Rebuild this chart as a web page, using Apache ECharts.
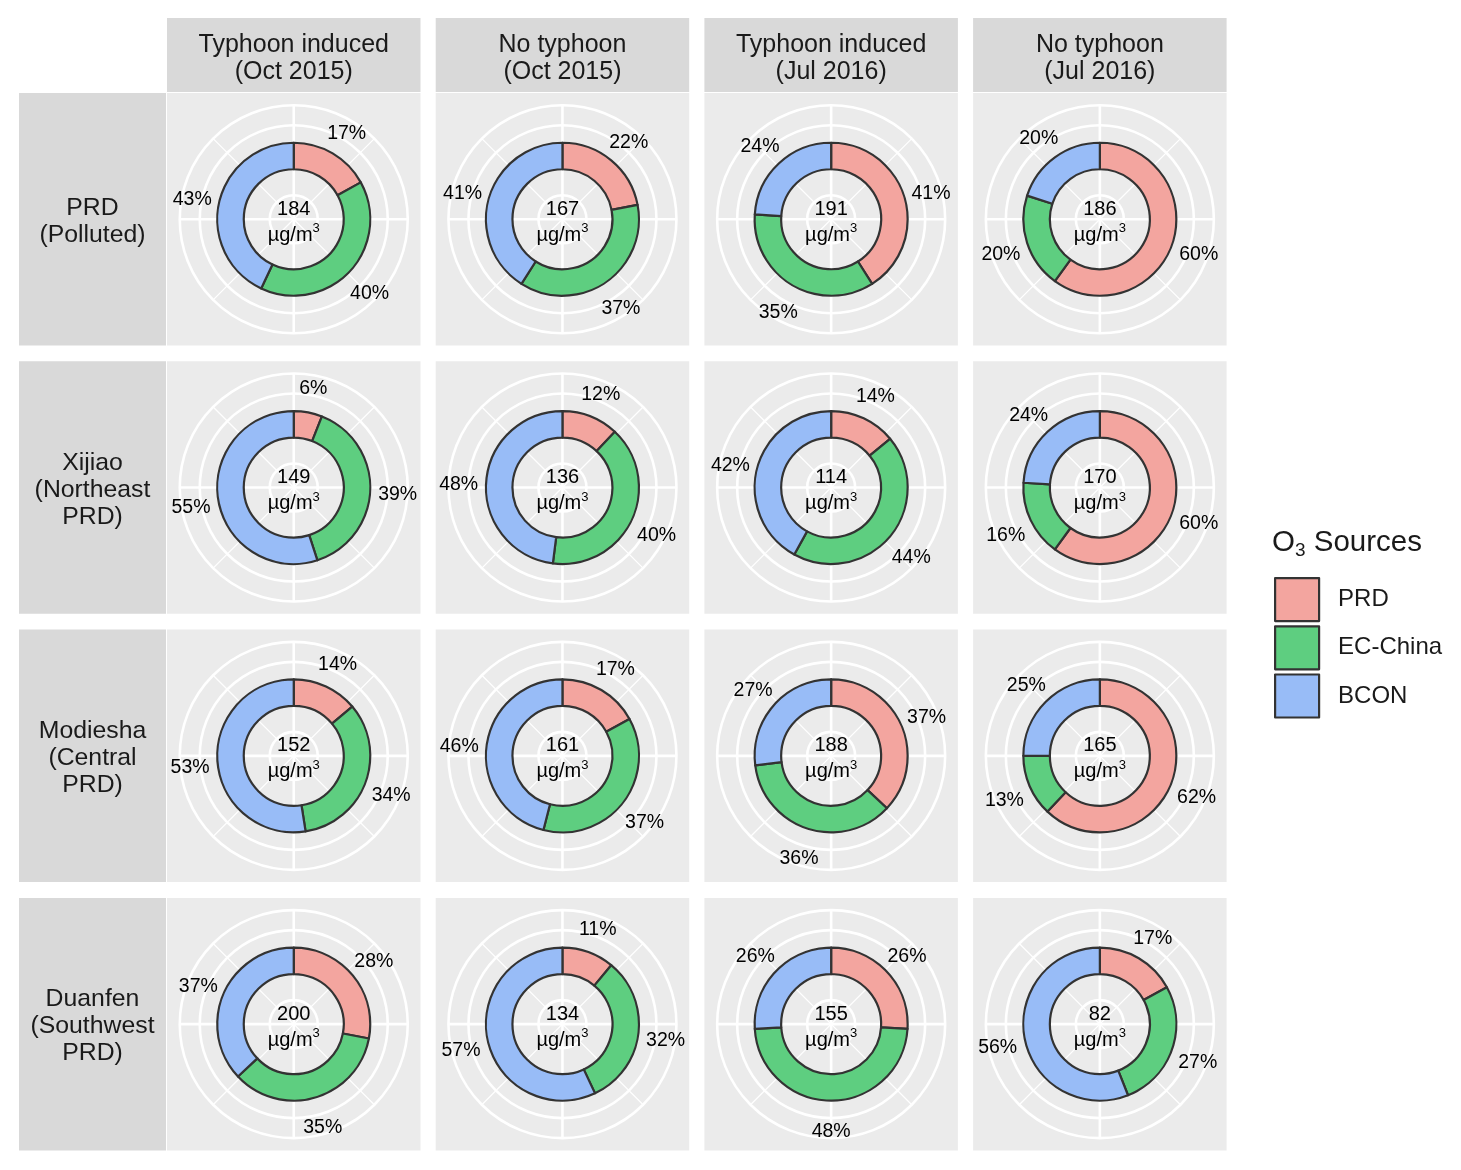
<!DOCTYPE html>
<html><head><meta charset="utf-8">
<script src="https://cdn.jsdelivr.net/npm/echarts@6/dist/echarts.min.js"></script>
<style>html,body{margin:0;padding:0;background:#fff}#c{width:1461px;height:1170px}</style>
</head><body><div id="c"></div>
<script>
// ---- data ----
const columnLabels = ['Typhoon induced\n(Oct 2015)', 'No typhoon\n(Oct 2015)', 'Typhoon induced\n(Jul 2016)', 'No typhoon\n(Jul 2016)'];
const rowLabels = ['PRD\n(Polluted)', 'Xijiao\n(Northeast\nPRD)', 'Modiesha\n(Central\nPRD)', 'Duanfen\n(Southwest\nPRD)'];
const sourceNames = ['PRD', 'EC-China', 'BCON'];
// row-major: row (site) x column (period), percent share
const prdShare     = [17, 22, 41, 60,   6, 12, 14, 60,  14, 17, 37, 62,  28, 11, 26, 17];
const ecChinaShare = [40, 37, 35, 20,  39, 40, 44, 16,  34, 37, 36, 13,  35, 32, 48, 27];
const bconShare    = [43, 41, 24, 20,  55, 48, 42, 24,  53, 46, 27, 25,  37, 57, 26, 56];
const o3Total      = [184, 167, 191, 186, 149, 136, 114, 170, 152, 161, 188, 165, 200, 134, 155, 82];

// ---- styling / layout ----
const FONT = 'Liberation Sans, Arial, sans-serif';
const sourceColors = ['#F3A59F', '#5ECE80', '#98BCF7'];
const panelX0 = 167, panelY0 = 93, stepX = 268.7, stepY = 268.3, panelW = 253.5, panelH = 252.5;
const stripTop = 18, stripLeft = 19;
const panelBg = '#EBEBEB', stripBg = '#D9D9D9', textCol = '#1A1A1A';

const chart = echarts.init(document.getElementById('c'), null, {renderer: 'canvas'});

const graphics = [];
const polar = [], angleAxis = [], radiusAxis = [], series = [];

columnLabels.forEach((lab, c) => {
  const x = panelX0 + c * stepX;
  graphics.push({type: 'rect', z: -10, silent: true, shape: {x: x, y: stripTop, width: panelW, height: panelY0 - stripTop - 1}, style: {fill: stripBg}});
  graphics.push({type: 'text', z: -5, silent: true, style: {text: lab, x: x + panelW / 2, y: (stripTop + panelY0 - 1) / 2 + 3.5, textAlign: 'center', textVerticalAlign: 'middle', font: '25px ' + FONT, lineHeight: 26.5, fill: textCol}});
});
rowLabels.forEach((lab, r) => {
  const y = panelY0 + r * stepY;
  graphics.push({type: 'rect', z: -10, silent: true, shape: {x: stripLeft, y: y, width: panelX0 - stripLeft - 1, height: panelH}, style: {fill: stripBg}});
  graphics.push({type: 'text', z: -5, silent: true, style: {text: lab, x: (stripLeft + panelX0 - 1) / 2, y: y + panelH / 2 + 2.5, textAlign: 'center', textVerticalAlign: 'middle', font: '24.8px ' + FONT, lineHeight: 27, fill: textCol}});
});

for (let r = 0; r < rowLabels.length; r++) {
  for (let c = 0; c < columnLabels.length; c++) {
    const i = r * columnLabels.length + c;
    const x = panelX0 + c * stepX, y = panelY0 + r * stepY;
    const cx = x + panelW / 2, cy = y + panelH / 2;
    graphics.push({type: 'rect', z: -10, silent: true, shape: {x: x, y: y, width: panelW, height: panelH}, style: {fill: panelBg}});

    // polar A: radial grid circles
    const pa = polar.length;
    polar.push({center: [cx, cy], radius: [24, 114]});
    angleAxis.push({polarIndex: pa, show: false, type: 'value', min: 0, max: 100});
    radiusAxis.push({polarIndex: pa, type: 'value', min: 0, max: 90, interval: 35,
      axisLine: {show: false}, axisTick: {show: false}, axisLabel: {show: false},
      splitLine: {show: true, lineStyle: {color: '#FFFFFF', width: 2.6}}});
    // polar B: theta spokes
    const pb = polar.length;
    polar.push({center: [cx, cy], radius: 114});
    angleAxis.push({polarIndex: pb, type: 'value', min: 0, max: 100, interval: 25, startAngle: 90, clockwise: true,
      axisLine: {show: false}, axisTick: {show: false}, axisLabel: {show: false},
      splitLine: {show: true, lineStyle: {color: '#FFFFFF', width: 2.6}},
      minorTick: {show: false, splitNumber: 2},
      minorSplitLine: {show: true, lineStyle: {color: '#FFFFFF', width: 1.3}}});
    radiusAxis.push({polarIndex: pb, show: false, type: 'value', min: 0, max: 1, splitLine: {show: false}});

    const vals = [prdShare[i], ecChinaShare[i], bconShare[i]];
    series.push({
      type: 'pie', name: 'donut' + i, center: [cx, cy], radius: [50, 76.5], startAngle: 90, clockwise: true,
      silent: true, avoidLabelOverlap: false, label: {show: false}, labelLine: {show: false},
      emphasis: {disabled: true}, z: 3,
      itemStyle: {borderColor: '#333333', borderWidth: 2.2},
      data: vals.map((v, k) => ({name: sourceNames[k], value: v, itemStyle: {color: sourceColors[k]}}))
    });
    series.push({
      type: 'pie', name: 'pct' + i, center: [cx, cy + 3.5], radius: [83, 119], startAngle: 90, clockwise: true,
      silent: true, avoidLabelOverlap: false, labelLine: {show: false}, emphasis: {disabled: true}, z: 4,
      itemStyle: {color: 'rgba(0,0,0,0)', borderWidth: 0},
      label: {show: true, position: 'inside', rotate: 0, formatter: '{c}%', fontSize: 19.5, fontFamily: FONT, color: '#000'},
      data: vals.map((v, k) => ({name: sourceNames[k] + ' label', value: v}))
    });
    series.push({
      type: 'pie', name: 'total' + i, center: [cx, cy + 3], radius: [0, 1],
      silent: true, labelLine: {show: false}, emphasis: {disabled: true}, z: 5,
      itemStyle: {color: 'rgba(0,0,0,0)'},
      label: {show: true, position: 'center', color: '#000',
        formatter: p => '{v|' + p.value + '}\n{u|\u00B5g/m}{s|3}',
        rich: {
          v: {fontSize: 20, lineHeight: 26, fontFamily: FONT, color: '#000'},
          u: {fontSize: 20, lineHeight: 26, fontFamily: FONT, color: '#000'},
          s: {fontSize: 13, lineHeight: 14, verticalAlign: 'top', fontFamily: FONT, color: '#000'}
        }},
      data: [{name: 'O3 total', value: o3Total[i]}]
    });
  }
}

chart.setOption({
  animation: false,
  backgroundColor: '#FFFFFF',
  title: {
    left: 1272, top: 526, padding: 0,
    text: '{a|O}{b|3}{a| Sources}',
    textStyle: {
      fontWeight: 'normal',
      rich: {
        a: {fontSize: 29.5, lineHeight: 34, fontWeight: 'normal', fontFamily: FONT, color: textCol},
        b: {fontSize: 19, lineHeight: 20, verticalAlign: 'bottom', fontWeight: 'normal', fontFamily: FONT, color: textCol}
      }
    }
  },
  legend: {
    orient: 'vertical', left: 1274, top: 577, padding: 0, itemWidth: 44, itemHeight: 43, itemGap: 3,
    icon: 'rect', selectedMode: false,
    data: sourceNames,
    itemStyle: {borderColor: '#333333', borderWidth: 2.2},
    textStyle: {fontSize: 24, lineHeight: 26, fontFamily: FONT, color: textCol, padding: [0, 0, 0, 14]}
  },
  graphic: {elements: graphics},
  polar: polar,
  angleAxis: angleAxis,
  radiusAxis: radiusAxis,
  series: series
});
</script>
</body></html>
